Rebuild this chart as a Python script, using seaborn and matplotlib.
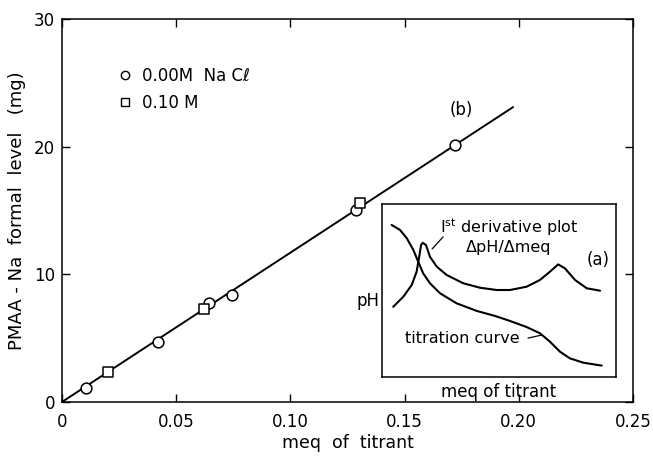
import matplotlib
matplotlib.use("Agg")
import matplotlib.pyplot as plt
from matplotlib.lines import Line2D
import seaborn as sns

# ---- data ----
nacl0_x = [0.0105, 0.042, 0.0645, 0.0743, 0.1287, 0.172]
nacl0_y = [1.1, 4.7, 7.75, 8.4, 15.0, 20.1]
nacl01_x = [0.0201, 0.0622, 0.1305]
nacl01_y = [2.35, 7.3, 15.6]
fit_x = [0.0, 0.1975]
fit_y = [0.0, 23.1]

xticks = [0, 0.05, 0.10, 0.15, 0.20, 0.25]
xtick_labels = ["0", "0.05", "0.10", "0.15", "0.20", "0.25"]
yticks = [0, 10, 20, 30]
ytick_labels = ["0", "10", "20", "30"]

# inset curves (arbitrary units, 0..1)
titr_u = [0.041, 0.077, 0.106, 0.134, 0.155, 0.176, 0.205, 0.248, 0.319, 0.405,
          0.483, 0.547, 0.618, 0.675, 0.718, 0.761, 0.803, 0.860, 0.939]
titr_v = [0.879, 0.850, 0.802, 0.734, 0.666, 0.599, 0.542, 0.484, 0.426, 0.382,
          0.353, 0.324, 0.289, 0.253, 0.204, 0.146, 0.108, 0.083, 0.066]
deriv_u = [0.048, 0.091, 0.127, 0.148, 0.159, 0.167, 0.174, 0.188, 0.205, 0.234,
           0.276, 0.347, 0.419, 0.490, 0.547, 0.618, 0.675, 0.718, 0.753, 0.782,
           0.825, 0.875, 0.932]
deriv_v = [0.406, 0.464, 0.532, 0.609, 0.695, 0.763, 0.776, 0.763, 0.695, 0.638,
           0.590, 0.542, 0.516, 0.503, 0.503, 0.522, 0.561, 0.609, 0.651, 0.628,
           0.561, 0.513, 0.499]

sns.set_style("ticks")
plt.rcParams['font.family'] = ['DejaVu Sans']
plt.rcParams['text.color'] = 'black'
plt.rcParams['axes.labelcolor'] = 'black'

fig = plt.figure(figsize=(6.53, 4.57), dpi=100)
ax = fig.add_axes([0.0949, 0.1204, 0.8745, 0.838])

sns.lineplot(x=fit_x, y=fit_y, ax=ax, color="black", lw=1.4, zorder=1)
sns.scatterplot(x=nacl0_x, y=nacl0_y, ax=ax, marker="o", s=60, facecolor="white",
                edgecolor="black", linewidth=1.1, zorder=3)
sns.scatterplot(x=nacl01_x, y=nacl01_y, ax=ax, marker="s", s=55, facecolor="white",
                edgecolor="black", linewidth=1.1, zorder=3)

ax.set_xlim(0, 0.25)
ax.set_ylim(0, 30)
ax.set_xticks(xticks)
ax.set_xticklabels(xtick_labels)
ax.set_yticks(yticks)
ax.set_yticklabels(ytick_labels)
ax.tick_params(direction="in", length=6, width=1, top=True, right=True,
               labelsize=12, colors="black")
ax.tick_params(axis="x", pad=8)
ax.tick_params(axis="y", pad=5)
for s in ax.spines.values():
    s.set_linewidth(1.1)
    s.set_color("black")
ax.set_xlabel("meq  of  titrant", fontsize=12.5, labelpad=2)
ax.set_ylabel("PMAA - Na  formal  level   (mg)", fontsize=13, labelpad=6)

handles = [
    Line2D([], [], marker="o", ls="none", mfc="white", mec="black", ms=6, mew=1.0),
    Line2D([], [], marker="s", ls="none", mfc="white", mec="black", ms=6, mew=1.0),
]
ax.legend(handles, ["0.00M  Na Cℓ", "0.10 M"], loc="upper left",
          bbox_to_anchor=(0.07, 0.915), frameon=False, fontsize=12,
          handletextpad=0.5, labelspacing=0.55, handlelength=1.0)

ax.text(0.1747, 22.9, "(b)", fontsize=12, ha="center", va="center")

# ---- inset ----
ins = fig.add_axes([0.585, 0.175, 0.3583, 0.3786])
sns.lineplot(x=titr_u, y=titr_v, ax=ins, color="black", lw=1.5, sort=False)
sns.lineplot(x=deriv_u, y=deriv_v, ax=ins, color="black", lw=1.5, sort=False)
ins.set_xlim(0, 1)
ins.set_ylim(0, 1)
ins.set_xticks([])
ins.set_yticks([])
for s in ins.spines.values():
    s.set_linewidth(1.1)
    s.set_color("black")
ins.set_xlabel("meq of titrant", fontsize=12, labelpad=4)
ins.set_ylabel("pH", fontsize=12, rotation=0, ha="right", va="center")
ins.yaxis.set_label_coords(-0.01, 0.44)

ins.text(0.545, 0.867, r"I$^{\rm st}$ derivative plot", fontsize=11.5, ha="center", va="center")
ins.text(0.543, 0.751, "ΔpH/Δmeq", fontsize=11.5, ha="center", va="center")
ins.text(0.974, 0.676, "(a)", fontsize=12, ha="right", va="center")
ins.text(0.098, 0.225, "titration curve", fontsize=11.5, ha="left", va="center")
ins.plot([0.214, 0.261], [0.74, 0.81], color="black", lw=0.9)
ins.plot([0.624, 0.684], [0.225, 0.243], color="black", lw=0.9)

fig.savefig("out.png", dpi=100)
